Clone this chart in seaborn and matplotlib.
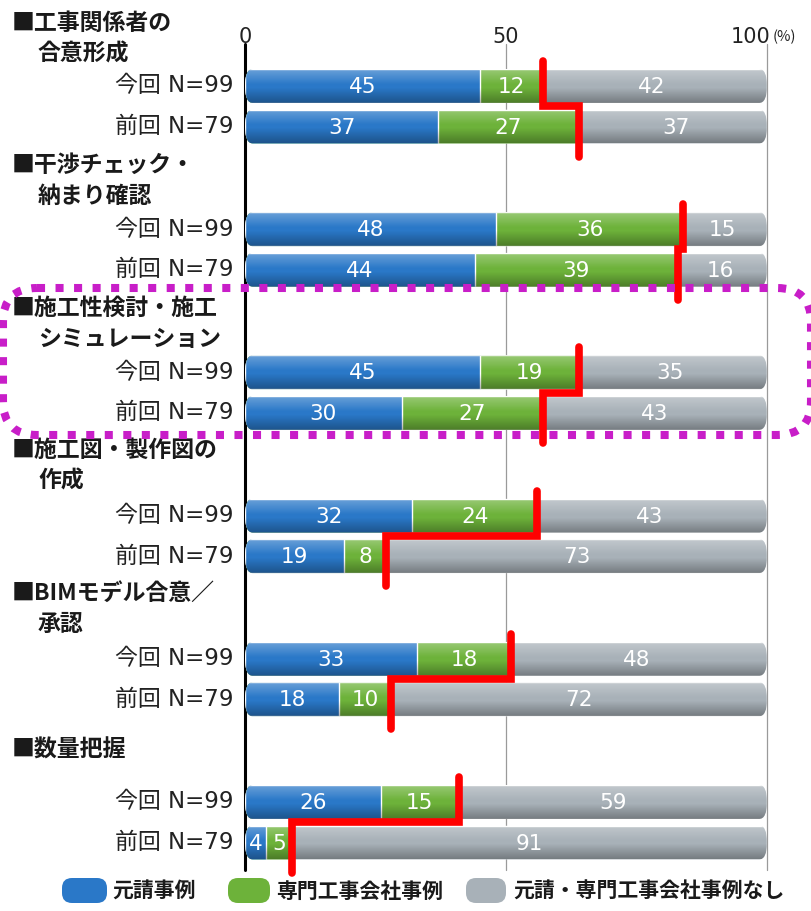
import numpy as np
import pandas as pd
import matplotlib
matplotlib.use("Agg")
import matplotlib.pyplot as plt
from matplotlib.patches import FancyBboxPatch
import seaborn as sns

sns.set_theme(style="white")
plt.rcParams['font.family'] = ['Noto Sans CJK JP', 'DejaVu Sans']

# ---- data ----
groups = ["■工事関係者の\n合意形成", "■干渉チェック・\n納まり確認", "■施工性検討・施工\nシミュレーション",
          "■施工図・製作図の\n作成", "■BIMモデル合意／\n承認", "■数量把握"]
rows = ["今回 N=99", "前回 N=79"]
blue_now = [45, 48, 45, 32, 33, 26]
green_now = [12, 36, 19, 24, 18, 15]
gray_now = [42, 15, 35, 43, 48, 59]
blue_prev = [37, 44, 30, 19, 18, 4]
green_prev = [27, 39, 27, 8, 10, 5]
gray_prev = [37, 16, 43, 73, 72, 91]
legend_labels = ["元請事例", "専門工事会社事例", "元請・専門工事会社事例なし"]
ticks = [0, 50, 100]
TOTAL = 100  # percent-stacked bars

C_BLUE = "#2a78c8"
C_GREEN = "#6db23a"
C_GRAY = "#a8b1b8"
C_RED = "#ff0000"
C_MAG = "#c81ec8"
NUMFONT = ['DejaVu Sans', 'Noto Sans CJK JP']

# ---- layout (pixel-like coordinates) ----
W, H = 812, 911
X0, PX = 245, 5.22  # pixel of 0 and pixels per unit
y_now = [86 + g * 143.2 for g in range(6)]
y_prev = [y + 40.5 for y in y_now]
BH = 34  # bar height in px

rec = []
for g in range(6):
    rec.append(dict(y=y_now[g], blue=blue_now[g], green=green_now[g], gray=gray_now[g]))
    rec.append(dict(y=y_prev[g], blue=blue_prev[g], green=green_prev[g], gray=gray_prev[g]))
df = pd.DataFrame(rec)
df["bg"] = df["blue"] + df["green"]
df["tot"] = TOTAL

fig = plt.figure(figsize=(W / 100, H / 100), dpi=100)
ax = fig.add_axes([0, 0, 1, 1])
ax.set_facecolor("none")
xl = (-X0 / PX, (W - X0) / PX)

# grid lines / axis
ax.plot([0, 0], [44, 870], color="black", lw=2.2, zorder=1)
for t in ticks[1:]:
    ax.plot([t, t], [44, 870], color="#9a9a9a", lw=0.9, zorder=1)

bw = BH / 40.5
layers = []
for col, c in [("tot", C_GRAY), ("bg", C_GREEN), ("blue", C_BLUE)]:
    before = list(ax.patches)
    sns.barplot(data=df, x=col, y="y", orient="h", native_scale=True, width=bw,
                color=c, saturation=1, errorbar=None, ax=ax, zorder=2)
    layers.append([p for p in ax.patches if p not in before])

# rounded ends + shading for each bar row
ry = BH / 2
rx = 8 / PX
for _, r in df.iterrows():
    clip = FancyBboxPatch((0, r.y - BH / 2), TOTAL, BH,
                          boxstyle=f"round,pad=0,rounding_size={rx}",
                          mutation_aspect=ry / rx, transform=ax.transData)
    for lay in layers:
        for p in lay:
            if abs(p.get_y() + p.get_height() / 2 - r.y) < 1:
                p.set_clip_path(clip)
    grad = np.zeros((40, 1, 4))
    t = np.linspace(0, 1, 40)
    a_w = np.clip(0.30 * (1 - t / 0.45), 0, None)
    a_k = np.clip(0.30 * (t - 0.55) / 0.45, 0, None)
    grad[:, 0, :3] = np.where((a_w > 0)[:, None], 1.0, 0.0)
    grad[:, 0, 3] = a_w + a_k
    im = ax.imshow(grad, extent=(0, TOTAL, r.y + BH / 2, r.y - BH / 2), aspect="auto",
                   interpolation="bilinear", zorder=3.5)
    im.set_clip_path(clip)

# value labels
for _, r in df.iterrows():
    for start, val in [(0, r.blue), (r.blue, r.green), (r.bg, r.gray)]:
        ax.text(start + val / 2, r.y + 1, f"{int(val)}", ha="center", va="center",
                color="white", fontsize=15.5, family=NUMFONT, zorder=6)

# red step lines
for g in range(6):
    a = blue_now[g] + green_now[g]
    b = blue_prev[g] + green_prev[g]
    ym = (y_now[g] + y_prev[g]) / 2
    ax.plot([a, a, b, b], [y_now[g] - 25, ym, ym, y_prev[g] + 30], color=C_RED, lw=5.5,
            solid_joinstyle="miter", solid_capstyle="round", zorder=7)

ax.set_xlim(*xl)
ax.set_ylim(H, 0)
ax.axis("off")

# ---- overlay axes in pixel coordinates for decorations ----
px = fig.add_axes([0, 0, 1, 1], zorder=5)
px.set_xlim(0, W)
px.set_ylim(H, 0)
px.axis("off")
px.patch.set_alpha(0)

# tick labels
for tv in ticks:
    xp = X0 + tv * PX
    if tv == 100:
        px.text(770, 37, f"{tv}", ha="right", va="center", fontsize=15,
                family=NUMFONT, color="#222222")
    else:
        px.text(xp, 37, f"{tv}", ha="center", va="center", fontsize=15,
                family=NUMFONT, color="#222222")
px.text(773, 37, "(%)", ha="left", va="center", fontsize=10.5, color="#222222")

# group headings
for g, name in enumerate(groups):
    lines = name.split("\n")
    y1 = 23 + g * 142.5
    if len(lines) == 2:
        px.text(12, y1, lines[0], ha="left", va="center", fontsize=16.5, fontweight="bold", color="#1a1a1a")
        px.text(38, y1 + 31, lines[1], ha="left", va="center", fontsize=16.5, fontweight="bold", color="#1a1a1a")
    else:
        px.text(12, 750, lines[0], ha="left", va="center", fontsize=16.5, fontweight="bold", color="#1a1a1a")

# row labels
for g in range(6):
    for yy, lab in [(y_now[g], rows[0]), (y_prev[g], rows[1])]:
        px.text(234, yy, lab, ha="right", va="center", fontsize=16.5,
                family=['DejaVu Sans', 'Noto Sans CJK JP'], color="#222222")

# magenta dotted rounded box
box = FancyBboxPatch((3, 288), 808, 147, boxstyle="round,pad=0,rounding_size=34",
                     fill=False, edgecolor=C_MAG, lw=5.8, linestyle=(0, (1.0, 1.3)),
                     capstyle="butt", zorder=8)
px.add_patch(box)

# legend
leg_items = [(62, 107, 112, C_BLUE), (228, 270, 276, C_GREEN), (466, 506, 513, C_GRAY)]
for (xa, xb, xt, col), lab in zip(leg_items, legend_labels):
    px.add_patch(FancyBboxPatch((xa, 878), xb - xa, 25,
                                boxstyle="round,pad=0,rounding_size=10", fc=col, ec="none"))
    px.text(xt, 891, lab, ha="left", va="center", fontsize=15, fontweight="bold",
            color="#1a1a1a")

fig.savefig("out.png", dpi=100)
